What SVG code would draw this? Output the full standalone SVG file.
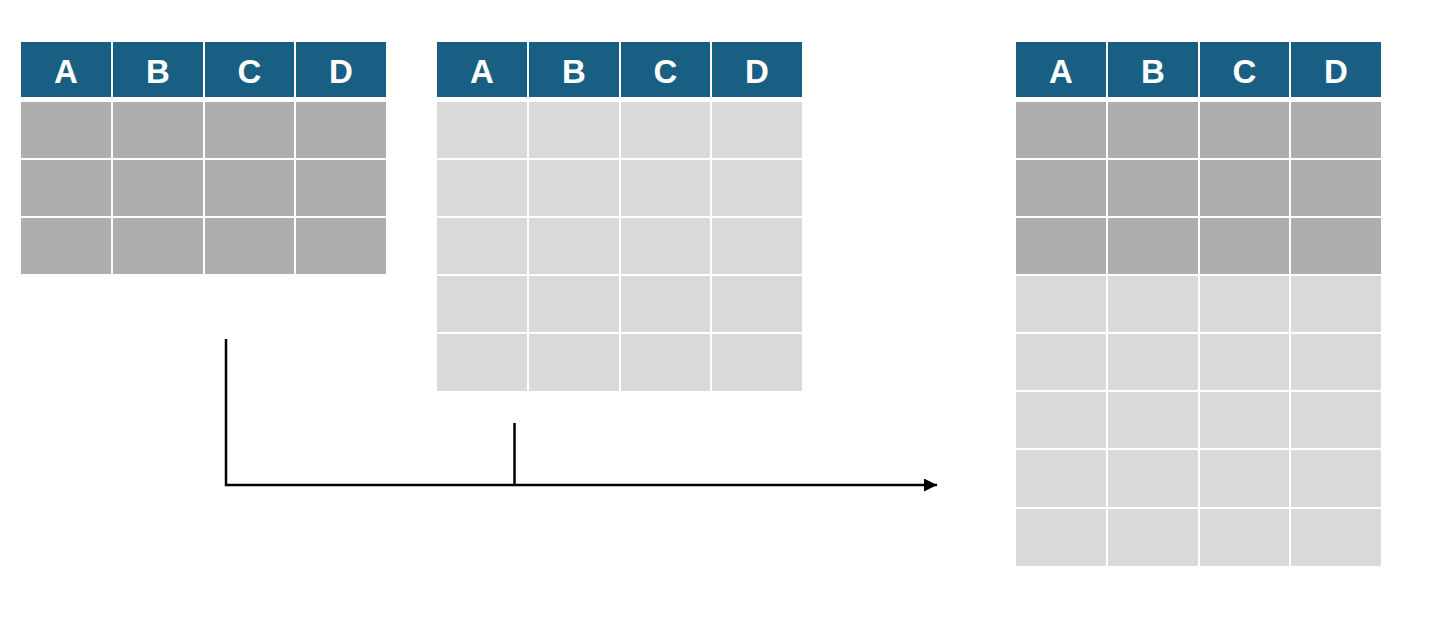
<svg xmlns="http://www.w3.org/2000/svg" width="1449" height="635" viewBox="0 0 1449 635">
<defs>
<style>
.h{fill:#185F83}
.d{fill:#AEAEAE}
.l{fill:#D9D9D9}
.t{font-family:"Liberation Sans",Arial,sans-serif;font-weight:bold;font-size:33px;fill:#fff;text-anchor:middle}
.c{stroke:#000;stroke-width:2.5;fill:none}
</style>
<marker id="arr" viewBox="0 0 12 12" refX="12" refY="6" markerWidth="13" markerHeight="13" markerUnits="userSpaceOnUse" orient="auto">
<path d="M0,0 L12,6 L0,12 z" fill="#000"/>
</marker>
</defs>
<rect width="1449" height="635" fill="#fff"/>
<g id="table-left">
<rect class="h" x="21" y="42" width="90" height="55"/>
<rect class="h" x="113" y="42" width="90" height="55"/>
<rect class="h" x="205" y="42" width="89" height="55"/>
<rect class="h" x="296" y="42" width="90" height="55"/>
<text class="t" x="66" y="82.5">A</text>
<text class="t" x="158" y="82.5">B</text>
<text class="t" x="249.5" y="82.5">C</text>
<text class="t" x="341" y="82.5">D</text>
<g class="d">
<rect x="21" y="102" width="90" height="56"/><rect x="113" y="102" width="90" height="56"/><rect x="205" y="102" width="89" height="56"/><rect x="296" y="102" width="90" height="56"/>
<rect x="21" y="160" width="90" height="56"/><rect x="113" y="160" width="90" height="56"/><rect x="205" y="160" width="89" height="56"/><rect x="296" y="160" width="90" height="56"/>
<rect x="21" y="218" width="90" height="56"/><rect x="113" y="218" width="90" height="56"/><rect x="205" y="218" width="89" height="56"/><rect x="296" y="218" width="90" height="56"/>
</g>
</g>
<g id="table-middle">
<rect class="h" x="437" y="42" width="90" height="55"/>
<rect class="h" x="529" y="42" width="90" height="55"/>
<rect class="h" x="621" y="42" width="89" height="55"/>
<rect class="h" x="712" y="42" width="90" height="55"/>
<text class="t" x="482" y="82.5">A</text>
<text class="t" x="574" y="82.5">B</text>
<text class="t" x="665.5" y="82.5">C</text>
<text class="t" x="757" y="82.5">D</text>
<g class="l">
<rect x="437" y="102" width="90" height="56"/><rect x="529" y="102" width="90" height="56"/><rect x="621" y="102" width="89" height="56"/><rect x="712" y="102" width="90" height="56"/>
<rect x="437" y="160" width="90" height="56"/><rect x="529" y="160" width="90" height="56"/><rect x="621" y="160" width="89" height="56"/><rect x="712" y="160" width="90" height="56"/>
<rect x="437" y="218" width="90" height="56"/><rect x="529" y="218" width="90" height="56"/><rect x="621" y="218" width="89" height="56"/><rect x="712" y="218" width="90" height="56"/>
<rect x="437" y="276" width="90" height="56"/><rect x="529" y="276" width="90" height="56"/><rect x="621" y="276" width="89" height="56"/><rect x="712" y="276" width="90" height="56"/>
<rect x="437" y="334" width="90" height="57"/><rect x="529" y="334" width="90" height="57"/><rect x="621" y="334" width="89" height="57"/><rect x="712" y="334" width="90" height="57"/>
</g>
</g>
<g id="table-result">
<rect class="h" x="1016" y="42" width="90" height="55"/>
<rect class="h" x="1108" y="42" width="90" height="55"/>
<rect class="h" x="1200" y="42" width="89" height="55"/>
<rect class="h" x="1291" y="42" width="90" height="55"/>
<text class="t" x="1061" y="82.5">A</text>
<text class="t" x="1153" y="82.5">B</text>
<text class="t" x="1244.5" y="82.5">C</text>
<text class="t" x="1336" y="82.5">D</text>
<g class="d">
<rect x="1016" y="102" width="90" height="56"/><rect x="1108" y="102" width="90" height="56"/><rect x="1200" y="102" width="89" height="56"/><rect x="1291" y="102" width="90" height="56"/>
<rect x="1016" y="160" width="90" height="56"/><rect x="1108" y="160" width="90" height="56"/><rect x="1200" y="160" width="89" height="56"/><rect x="1291" y="160" width="90" height="56"/>
<rect x="1016" y="218" width="90" height="56"/><rect x="1108" y="218" width="90" height="56"/><rect x="1200" y="218" width="89" height="56"/><rect x="1291" y="218" width="90" height="56"/>
</g>
<g class="l">
<rect x="1016" y="276" width="90" height="56"/><rect x="1108" y="276" width="90" height="56"/><rect x="1200" y="276" width="89" height="56"/><rect x="1291" y="276" width="90" height="56"/>
<rect x="1016" y="334" width="90" height="56"/><rect x="1108" y="334" width="90" height="56"/><rect x="1200" y="334" width="89" height="56"/><rect x="1291" y="334" width="90" height="56"/>
<rect x="1016" y="392" width="90" height="56"/><rect x="1108" y="392" width="90" height="56"/><rect x="1200" y="392" width="89" height="56"/><rect x="1291" y="392" width="90" height="56"/>
<rect x="1016" y="450" width="90" height="57"/><rect x="1108" y="450" width="90" height="57"/><rect x="1200" y="450" width="89" height="57"/><rect x="1291" y="450" width="90" height="57"/>
<rect x="1016" y="509" width="90" height="57"/><rect x="1108" y="509" width="90" height="57"/><rect x="1200" y="509" width="89" height="57"/><rect x="1291" y="509" width="90" height="57"/>
</g>
</g>
<g id="connectors">
<path class="c" d="M226,339 V485 H937" marker-end="url(#arr)"/>
<path class="c" d="M514.5,423 V485"/>
</g>
</svg>
